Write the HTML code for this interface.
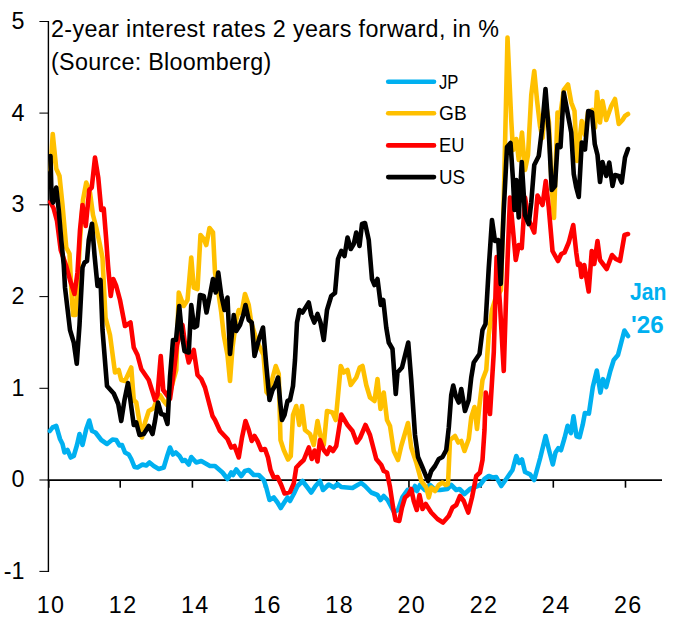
<!DOCTYPE html>
<html><head><meta charset="utf-8"><title>chart</title>
<style>
html,body{margin:0;padding:0;background:#fff;}
body{width:680px;height:619px;position:relative;overflow:hidden;font-family:"Liberation Sans",sans-serif;color:#000;}
.yl{position:absolute;left:0;width:24.5px;text-align:right;font-size:23.3px;line-height:24px;height:24px;}
.xl{position:absolute;top:593.3px;width:40px;text-align:center;letter-spacing:1.4px;text-indent:1.4px;font-size:23.3px;line-height:24px;height:24px;}
.lg{position:absolute;left:439px;font-size:20.8px;line-height:24px;height:24px;white-space:nowrap;transform-origin:0 50%;}
.t{position:absolute;left:51px;font-size:23.3px;line-height:24px;height:24px;white-space:nowrap;transform-origin:0 50%;}
.j{position:absolute;left:630px;font-size:24.2px;font-weight:bold;color:#00b0f0;line-height:24px;height:24px;white-space:nowrap;transform-origin:0 50%;}
</style></head><body>
<svg width="680" height="619" viewBox="0 0 680 619" style="position:absolute;left:0;top:0">
<g stroke="#000" fill="none">
<line x1="48.4" y1="20.9" x2="48.4" y2="571.9" stroke-width="1.4"/>
<line x1="47.7" y1="480.15" x2="662" y2="480.15" stroke-width="1.9"/>
<line x1="39.4" y1="21.50" x2="48.4" y2="21.50" stroke-width="1.05"/>
<line x1="39.4" y1="113.10" x2="48.4" y2="113.10" stroke-width="1.05"/>
<line x1="39.4" y1="204.80" x2="48.4" y2="204.80" stroke-width="1.05"/>
<line x1="39.4" y1="296.60" x2="48.4" y2="296.60" stroke-width="1.05"/>
<line x1="39.4" y1="388.30" x2="48.4" y2="388.30" stroke-width="1.05"/>
<line x1="39.4" y1="480.00" x2="48.4" y2="480.00" stroke-width="1.05"/>
<line x1="39.4" y1="571.40" x2="48.4" y2="571.40" stroke-width="1.05"/>
<line x1="48.80" y1="480" x2="48.80" y2="487.7" stroke-width="1.6"/>
<line x1="120.23" y1="480" x2="120.23" y2="487.7" stroke-width="1.6"/>
<line x1="192.41" y1="480" x2="192.41" y2="487.7" stroke-width="1.6"/>
<line x1="264.59" y1="480" x2="264.59" y2="487.7" stroke-width="1.6"/>
<line x1="336.77" y1="480" x2="336.77" y2="487.7" stroke-width="1.6"/>
<line x1="408.95" y1="480" x2="408.95" y2="487.7" stroke-width="1.6"/>
<line x1="481.13" y1="480" x2="481.13" y2="487.7" stroke-width="1.6"/>
<line x1="553.31" y1="480" x2="553.31" y2="487.7" stroke-width="1.6"/>
<line x1="625.49" y1="480" x2="625.49" y2="487.7" stroke-width="1.6"/>
</g>
<g fill="none" stroke-width="4.6" stroke-linejoin="round" stroke-linecap="round">
<polyline stroke="#00b0f0" points="49.90,431.00 52.50,427.50 56.25,426.00 60.00,439.00 62.50,444.00 64.50,452.50 67.50,450.00 70.75,457.50 73.75,456.00 77.00,445.00 79.50,434.00 82.50,445.00 86.25,429.00 89.25,420.50 92.00,431.00 95.50,432.50 101.25,440.00 107.00,444.00 112.50,439.50 116.25,440.00 119.50,445.50 122.00,445.00 125.00,452.50 128.75,454.50 131.25,459.00 134.50,467.00 137.50,467.50 142.50,464.50 146.25,465.50 149.50,462.50 153.75,466.00 158.75,469.00 163.75,467.50 167.50,455.00 170.00,447.50 173.00,454.50 175.75,452.50 179.50,456.00 182.50,461.00 185.00,460.00 188.75,464.50 191.25,457.00 196.25,462.50 201.25,461.00 210.00,466.00 215.00,466.00 222.50,472.50 227.50,479.00 231.25,472.50 233.00,475.00 236.25,469.50 241.25,476.00 245.00,471.00 248.75,470.00 253.75,475.00 258.75,475.00 263.75,480.00 266.25,487.50 269.50,500.00 273.75,497.50 277.50,502.50 280.75,508.00 284.25,502.50 287.50,497.50 290.00,501.00 293.75,494.00 297.50,486.00 302.50,481.00 307.50,487.50 311.25,492.50 315.50,486.00 320.00,481.00 323.00,490.00 328.75,484.50 333.75,487.50 337.50,484.00 341.25,487.00 352.50,488.00 357.50,485.00 361.25,483.00 365.00,486.00 371.25,492.50 377.50,495.00 380.50,500.00 383.75,496.00 387.50,500.00 390.00,504.50 394.00,512.00 398.00,510.00 402.50,497.00 407.50,490.00 411.00,494.00 415.00,486.00 417.00,491.00 420.00,485.00 425.00,490.00 430.00,485.00 435.00,490.00 440.00,490.00 447.50,489.00 451.25,485.00 456.25,490.00 459.50,489.00 464.50,494.00 470.00,489.00 475.00,487.00 480.00,485.00 484.50,479.00 488.75,476.00 492.50,477.50 496.25,477.00 501.25,486.00 506.25,479.00 512.50,470.00 516.25,456.00 519.25,463.00 522.00,459.50 525.00,472.00 530.00,474.40 534.20,480.00 540.20,458.00 545.60,436.00 549.50,452.00 552.80,464.50 555.50,452.60 558.30,448.20 561.00,450.20 564.50,438.20 567.60,425.80 570.90,433.10 573.50,416.30 576.50,436.20 579.60,437.20 582.70,424.80 584.90,413.00 588.90,413.60 592.80,387.00 596.80,370.50 600.40,392.60 603.00,379.20 606.20,387.00 610.30,371.00 613.75,360.00 618.00,355.00 621.25,342.50 624.40,330.50 628.00,336.00"/>
<polyline stroke="#ffc000" points="50.50,170.00 52.75,134.00 56.25,168.75 59.50,176.00 62.50,205.00 66.25,247.50 69.50,253.75 71.25,287.50 73.00,315.00 75.50,315.00 77.50,287.50 80.00,240.00 83.00,200.00 86.25,182.50 90.00,192.50 93.00,215.00 96.25,227.50 100.00,245.00 102.50,258.00 105.50,317.50 110.00,335.00 115.00,372.50 118.75,370.00 121.25,380.00 125.00,381.00 131.25,367.50 133.75,400.00 136.25,402.50 138.75,417.50 142.00,437.50 145.00,422.50 148.75,411.00 153.75,408.00 157.00,399.00 160.00,395.00 163.00,400.00 167.00,405.00 172.00,385.00 176.25,370.00 177.50,330.00 178.75,292.50 183.75,306.00 187.50,300.00 191.25,257.50 193.75,287.50 197.50,289.00 200.50,235.00 203.75,239.00 206.25,245.00 209.50,228.00 213.00,232.50 215.00,272.50 218.00,290.00 221.25,312.50 223.75,335.00 227.50,355.00 230.00,381.00 232.50,347.50 236.25,320.00 238.75,310.00 241.50,313.00 245.00,294.00 248.75,305.00 251.25,322.50 255.00,335.00 258.75,345.00 263.50,355.00 266.50,392.00 269.00,395.00 272.00,380.00 275.75,366.00 278.75,374.00 280.50,440.00 283.75,450.00 288.00,459.50 290.75,456.00 293.00,415.00 296.25,406.00 299.25,425.00 302.00,406.00 305.00,430.00 310.00,434.00 313.75,445.00 317.50,421.00 320.50,436.00 323.75,445.00 327.00,411.00 332.50,412.50 335.75,420.00 340.75,366.00 343.75,372.50 347.50,370.00 350.75,385.00 356.25,377.50 359.75,367.50 362.50,366.00 366.25,385.00 370.00,397.50 374.50,401.00 377.50,379.00 380.50,409.00 383.75,392.50 387.00,420.00 390.00,426.00 393.75,451.00 398.00,460.00 401.25,446.00 408.00,423.00 411.25,447.50 416.25,462.50 421.25,481.00 426.25,487.50 428.75,497.50 431.25,487.50 435.00,491.00 438.75,485.00 442.50,482.50 445.50,485.00 448.00,484.00 450.00,440.00 455.00,436.00 458.25,442.50 461.25,441.00 464.50,451.00 468.75,439.00 471.25,417.50 474.50,407.00 477.00,429.00 479.50,405.00 482.50,380.00 486.25,370.00 488.75,335.00 492.00,310.00 495.00,300.00 498.00,295.00 501.00,290.00 503.75,200.00 507.50,37.50 511.25,120.00 513.00,150.00 516.25,139.00 518.75,160.00 522.00,132.50 525.00,170.00 528.00,155.00 531.25,95.00 534.25,71.00 537.00,100.00 540.00,126.00 542.50,138.00 545.50,101.00 548.90,122.00 551.60,186.00 554.00,218.00 557.50,112.50 560.00,117.00 563.75,90.00 568.00,84.50 571.25,102.50 574.50,111.00 577.00,161.00 581.75,121.00 585.00,135.00 588.00,112.00 592.00,110.00 595.00,127.50 597.00,92.00 600.00,122.50 602.50,101.00 606.25,120.00 611.25,106.00 615.00,99.00 618.75,124.00 622.50,120.00 625.00,116.00 628.00,114.00"/>
<polyline stroke="#ff0000" points="50.20,202.00 53.50,208.00 57.00,221.00 60.70,250.00 66.25,266.00 70.00,280.00 74.50,294.00 77.50,272.50 80.00,230.00 82.50,205.00 85.75,226.00 89.25,190.00 91.75,187.50 95.00,157.50 98.25,177.50 101.25,210.00 103.75,208.75 106.25,240.00 108.00,265.00 110.75,296.00 113.25,279.00 116.25,286.00 120.00,300.00 125.00,326.00 130.50,322.50 133.75,347.50 137.50,355.00 141.25,369.00 148.75,380.00 155.00,400.00 157.50,395.00 160.75,356.00 163.25,390.00 170.00,399.00 173.75,372.50 177.00,345.00 182.50,325.00 185.50,347.50 188.75,362.50 193.75,350.00 197.50,375.00 201.25,379.00 205.00,387.50 212.50,416.00 215.00,420.00 220.00,431.00 227.50,439.00 231.25,447.50 234.50,446.00 238.75,457.50 242.00,437.50 245.50,421.00 248.75,430.00 251.75,441.00 254.50,436.00 257.50,441.00 261.25,450.00 265.00,449.00 268.00,457.50 270.50,470.00 273.75,477.50 277.50,477.00 281.25,485.00 284.50,493.50 290.00,492.00 293.75,483.50 296.25,467.50 300.00,463.50 303.75,460.00 308.75,447.50 311.75,459.00 314.50,450.50 317.50,461.50 320.00,440.00 323.75,450.00 327.00,454.00 330.00,447.50 333.00,451.00 336.25,446.00 341.25,414.50 347.50,425.00 352.50,431.00 356.75,442.50 360.00,438.00 365.50,425.00 370.00,435.00 376.25,459.00 381.25,465.00 383.75,471.00 387.00,472.50 390.00,487.00 393.00,507.00 395.50,520.00 399.25,521.00 402.00,507.50 405.00,497.50 408.00,495.00 411.25,489.00 413.75,501.00 416.75,510.00 419.50,495.00 422.50,509.00 425.75,504.00 431.25,512.50 437.50,519.00 443.00,522.50 448.75,516.00 452.50,507.50 456.25,505.00 460.00,496.00 463.75,501.00 468.25,512.50 472.00,497.50 476.25,476.00 480.00,472.50 482.50,460.00 484.50,430.00 485.75,392.50 490.00,414.00 493.80,352.00 496.60,257.00 500.00,305.00 503.75,371.00 506.25,292.50 510.00,197.50 513.00,230.00 515.75,260.00 518.75,245.00 521.75,248.00 525.00,197.50 528.75,220.00 534.25,232.50 537.50,195.50 542.50,205.00 545.75,181.00 548.75,207.50 552.50,251.00 558.00,261.00 561.25,254.00 564.50,252.50 568.75,242.50 573.25,225.00 576.25,252.50 578.00,265.00 580.00,264.00 581.50,277.00 584.25,265.00 588.70,291.50 591.75,251.00 594.25,264.00 597.50,241.00 600.00,260.00 606.75,269.00 612.00,255.00 615.75,259.00 620.00,261.00 624.50,235.00 628.00,234.00"/>
<polyline stroke="#000000" points="50.50,156.00 51.60,199.00 53.00,202.50 56.25,187.50 58.75,210.00 61.25,240.00 63.75,265.00 65.00,287.50 70.00,330.00 73.75,342.50 76.75,363.75 79.50,325.00 82.50,267.50 84.50,262.50 87.00,261.00 88.75,240.00 92.00,223.75 94.50,255.00 97.50,286.00 100.50,280.00 102.50,330.00 107.00,386.00 113.75,393.50 118.25,404.00 121.25,421.00 124.50,400.00 128.00,383.00 130.50,401.00 133.75,425.00 136.25,422.50 139.50,435.00 143.75,434.00 148.75,426.00 152.50,434.00 155.00,421.00 158.00,402.50 161.25,414.00 164.50,415.00 167.50,424.00 170.00,377.00 173.00,340.00 176.00,340.00 179.25,306.00 182.00,335.00 184.50,351.00 188.75,352.50 191.25,305.00 194.25,327.50 197.00,326.00 200.00,295.00 203.75,296.00 206.50,312.50 210.00,295.00 213.00,279.00 215.75,292.50 218.25,272.50 221.25,295.00 224.50,310.00 227.50,297.50 230.00,354.00 233.75,315.00 236.25,331.00 240.00,325.00 243.25,315.00 245.50,305.00 248.75,320.00 251.75,322.50 254.50,356.00 258.75,340.00 263.00,327.50 266.25,365.00 269.50,400.00 272.50,390.00 275.00,386.00 278.00,377.50 280.00,400.00 282.00,420.00 284.50,415.00 287.50,401.00 290.00,400.00 293.00,386.00 295.00,360.00 297.00,322.50 299.50,310.00 302.50,312.50 308.75,302.50 311.25,315.00 314.25,322.50 317.50,314.00 320.50,322.50 323.75,340.00 327.00,310.00 331.25,296.00 335.00,293.00 338.00,259.00 341.25,251.00 344.50,256.00 347.50,237.50 350.75,249.00 353.75,244.00 356.25,232.50 359.50,246.00 362.00,224.00 365.00,223.00 368.75,240.00 372.00,279.00 374.50,285.00 377.50,279.00 380.75,305.00 383.25,300.00 386.25,327.50 388.75,342.50 392.50,349.00 395.75,394.00 397.50,372.50 402.00,367.50 408.25,342.50 411.25,380.00 415.00,435.00 418.00,457.00 422.50,467.50 428.00,481.00 431.25,471.00 435.00,466.00 438.75,459.00 442.50,457.00 446.25,450.00 448.75,428.00 451.25,395.00 453.25,385.50 455.75,396.00 458.75,402.50 461.25,389.00 465.00,411.00 468.75,400.00 471.25,377.50 473.75,362.50 479.50,354.00 482.50,330.00 485.50,324.00 488.75,268.00 492.00,220.00 495.00,241.00 498.25,240.00 500.75,284.00 503.50,215.00 507.00,147.00 510.50,143.00 513.00,180.00 514.50,210.00 516.25,180.00 518.75,217.50 521.75,162.00 525.00,215.00 528.75,224.00 531.25,202.50 534.25,165.00 538.75,156.00 542.00,129.00 545.50,89.00 548.75,132.00 551.75,190.00 555.00,186.00 557.50,145.00 560.50,147.00 563.75,92.50 567.50,112.50 571.25,132.50 573.75,174.00 576.25,187.50 578.75,197.00 581.75,142.50 585.00,149.50 588.25,111.00 592.00,112.50 594.75,144.00 597.50,155.00 600.00,182.00 602.50,162.00 606.25,176.00 609.25,162.50 612.50,186.00 615.00,175.00 618.75,176.00 621.75,182.50 625.00,157.50 628.00,149.00"/>
<line x1="388.2" y1="81.7" x2="434.0" y2="81.7" stroke="#00b0f0"/>
<line x1="388.2" y1="113.2" x2="434.0" y2="113.2" stroke="#ffc000"/>
<line x1="388.2" y1="145.4" x2="434.0" y2="145.4" stroke="#ff0000"/>
<line x1="388.2" y1="177.1" x2="434.0" y2="177.1" stroke="#000000"/>
</g>
</svg>
<div class="yl" style="top:8.9px">5</div>
<div class="yl" style="top:100.5px">4</div>
<div class="yl" style="top:192.2px">3</div>
<div class="yl" style="top:284.0px">2</div>
<div class="yl" style="top:375.7px">1</div>
<div class="yl" style="top:467.4px">0</div>
<div class="yl" style="top:558.8px">-1</div>
<div class="xl" style="left:30.4px">10</div>
<div class="xl" style="left:102.5px">12</div>
<div class="xl" style="left:174.7px">14</div>
<div class="xl" style="left:246.8px">16</div>
<div class="xl" style="left:319.0px">18</div>
<div class="xl" style="left:391.1px">20</div>
<div class="xl" style="left:463.3px">22</div>
<div class="xl" style="left:535.5px">24</div>
<div class="xl" style="left:607.6px">26</div>
<div class="lg" style="top:69.5px;transform:scaleX(0.8)">JP</div>
<div class="lg" style="top:101.0px;transform:scaleX(0.92)">GB</div>
<div class="lg" style="top:133.2px;transform:scaleX(0.88)">EU</div>
<div class="lg" style="top:164.9px;transform:scaleX(0.9)">US</div>
<div class="t" id="t1" style="top:17.4px;letter-spacing:0.37px">2-year interest rates 2 years forward, in %</div>
<div class="t" id="t2" style="top:49.6px;letter-spacing:0.3px">(Source: Bloomberg)</div>
<div class="j" id="j1" style="top:280.3px;transform:scaleX(0.875)">Jan</div>
<div class="j" id="j2" style="top:312.6px;left:631px;transform:scaleX(1.0)">'26</div>
</body></html>
